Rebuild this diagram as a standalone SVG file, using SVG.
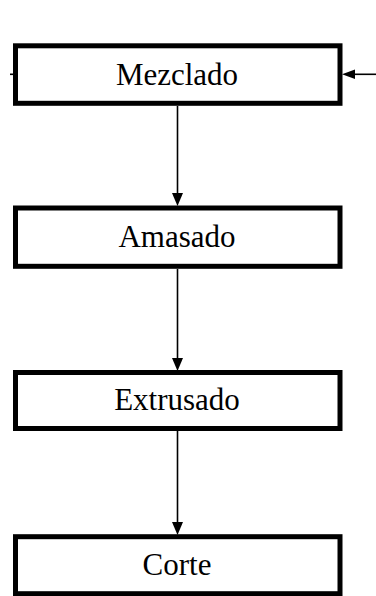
<svg xmlns="http://www.w3.org/2000/svg" width="376" height="596" viewBox="0 0 376 596">
  <style>
    .box { fill: #fff; stroke: #000; stroke-width: 5; }
    .lbl { font-family: "Liberation Serif", "Times New Roman", serif; font-size: 31px; fill: #000; text-anchor: middle; }
    .edge { stroke: #000; stroke-width: 1.6; fill: none; }
    .head { fill: #000; }
  </style>
  <rect width="376" height="596" fill="#fff"/>

  <!-- connectors -->
  <g id="connectors">
    <line class="edge" x1="177.5" y1="106" x2="177.5" y2="195"/>
    <polygon class="head" points="172,193 183,193 177.5,206"/>
    <line class="edge" x1="177.5" y1="269" x2="177.5" y2="360"/>
    <polygon class="head" points="172,358 183,358 177.5,371"/>
    <line class="edge" x1="177.5" y1="431" x2="177.5" y2="524"/>
    <polygon class="head" points="172,522 183,522 177.5,535"/>
    <!-- incoming feed on the right -->
    <line class="edge" x1="376" y1="74.3" x2="352" y2="74.3"/>
    <polygon class="head" points="355,69.5 355,79 342,74.3"/>
    <!-- stub on the left -->
    <line class="edge" x1="10" y1="74.3" x2="14" y2="74.3"/>
  </g>

  <g id="mezclado">
    <rect class="box" x="15.5" y="45.8" width="324.5" height="57.5"/>
    <text class="lbl" x="177" y="85">Mezclado</text>
  </g>
  <g id="amasado">
    <rect class="box" x="15.5" y="208" width="324.5" height="58.3"/>
    <text class="lbl" x="177" y="247">Amasado</text>
  </g>
  <g id="extrusado">
    <rect class="box" x="15.5" y="372.5" width="324.5" height="56"/>
    <text class="lbl" x="177" y="410">Extrusado</text>
  </g>
  <g id="corte">
    <rect class="box" x="15.5" y="536.7" width="324.5" height="57"/>
    <text class="lbl" x="177" y="575">Corte</text>
  </g>
</svg>
